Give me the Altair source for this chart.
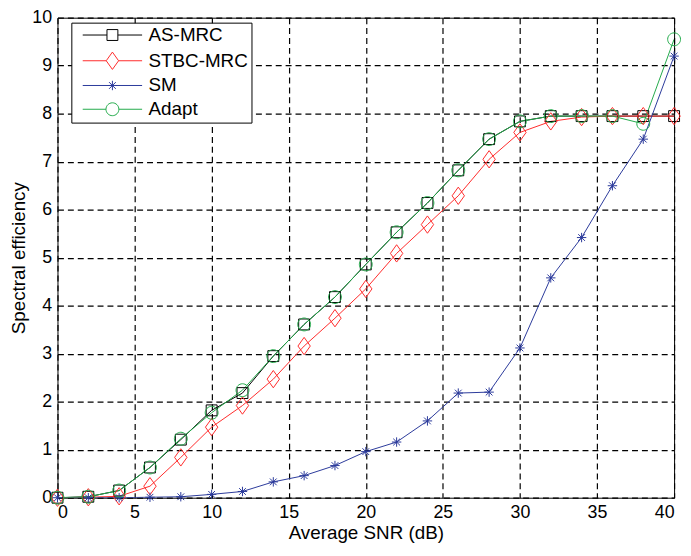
import altair as alt
import pandas as pd

snr = [0, 2, 4, 6, 8, 10, 12, 14, 16, 18, 20, 22, 24, 26, 28, 30, 32, 34, 36, 38, 40]
as_mrc = [0.0, 0.02, 0.15, 0.63, 1.21, 1.82, 2.18, 2.95, 3.61, 4.18, 4.86, 5.53, 6.14, 6.82, 7.47, 7.84, 7.95, 7.95, 7.95, 7.95, 7.95]
stbc_mrc = [0.0, 0.01, 0.03, 0.24, 0.84, 1.47, 1.92, 2.47, 3.16, 3.74, 4.35, 5.09, 5.69, 6.29, 7.05, 7.61, 7.84, 7.93, 7.95, 7.95, 7.95]
sm = [0.0, 0.0, 0.0, 0.01, 0.02, 0.07, 0.13, 0.33, 0.46, 0.67, 0.96, 1.16, 1.6, 2.18, 2.2, 3.12, 4.58, 5.42, 6.5, 7.47, 9.2]
adapt = [0.0, 0.02, 0.15, 0.63, 1.23, 1.77, 2.24, 2.95, 3.61, 4.18, 4.86, 5.53, 6.14, 6.82, 7.47, 7.84, 7.95, 7.95, 7.95, 7.79, 9.55]

series_names = ["AS-MRC", "STBC-MRC", "SM", "Adapt"]
series_values = [as_mrc, stbc_mrc, sm, adapt]
colors = ["#000000", "#ff2a2a", "#2b3a9b", "#22aa4a"]

marker_paths = [
    "M-1.1,-1.1H1.1V1.1H-1.1Z",
    "M0,-1.75L1.25,0L0,1.75L-1.25,0Z",
    "M0,-0.95V0.95M-0.95,0H0.95M-0.68,-0.68L0.68,0.68M-0.68,0.68L0.68,-0.68",
    "M1.3,0A1.3,1.3,0,1,1,-1.3,0A1.3,1.3,0,1,1,1.3,0Z",
]
legend_paths = [
    "M-6,0H-1.1M1.1,0H6" + marker_paths[0],
    "M-6,0H-1.25M1.25,0H6" + marker_paths[1],
    "M-6,0H6" + marker_paths[2],
    "M-6,0H-1.3M1.3,0H6" + marker_paths[3],
]

rows = []
for k, (name, vals) in enumerate(zip(series_names, series_values)):
    for x, y in zip(snr, vals):
        rows.append({"snr": x, "eff": y, "series": name, "order": k})
df = pd.DataFrame(rows)

FONT = "Liberation Sans"

x_enc = alt.X("snr:Q", scale=alt.Scale(domain=[0, 40], nice=False),
              axis=alt.Axis(values=list(range(0, 41, 5)), title="Average SNR (dB)"))
y_enc = alt.Y("eff:Q", scale=alt.Scale(domain=[0, 10], nice=False),
              axis=alt.Axis(values=list(range(0, 11)), title="Spectral efficiency"))

color_nolegend = alt.Color("series:N", scale=alt.Scale(domain=series_names, range=colors), legend=None)

lines = alt.Chart(df).mark_line(strokeWidth=1, clip=True).encode(
    x=x_enc, y=y_enc, color=color_nolegend, detail="series:N", order="snr:Q"
)

points = alt.Chart(df).mark_point(filled=False, size=100, strokeWidth=1, opacity=1, clip=False).encode(
    x=x_enc, y=y_enc, color=color_nolegend,
    shape=alt.Shape("series:N", scale=alt.Scale(domain=series_names, range=marker_paths), legend=None),
)

legend_opts = dict(title=None, orient="none", legendX=14, legendY=5,
                   symbolSize=100, symbolStrokeWidth=1, symbolOpacity=1,
                   symbolOffset=29, labelOffset=27,
                   labelFontSize=19, labelFont=FONT, labelColor="black",
                   rowPadding=4, padding=3,
                   strokeColor="black", fillColor="white", cornerRadius=0)

legend_layer = alt.Chart(df).mark_point(filled=False, strokeWidth=1).encode(
    x=x_enc, y=y_enc,
    opacity=alt.value(0),
    color=alt.Color("series:N", scale=alt.Scale(domain=series_names, range=colors),
                    legend=alt.Legend(**legend_opts)),
    shape=alt.Shape("series:N", scale=alt.Scale(domain=series_names, range=legend_paths),
                    legend=alt.Legend(**legend_opts)),
)

chart = alt.layer(legend_layer, lines, points).resolve_scale(
    color="independent", shape="independent"
).properties(
    width=623, height=485,
    autosize=alt.AutoSizeParams(type="none"),
    padding={"left": 50, "top": 7, "right": 9, "bottom": 48},
).configure_view(
    stroke="black", strokeWidth=1
).configure_axis(
    grid=True, gridColor="black", gridDash=[6, 4], gridWidth=1.2, gridOpacity=1,
    domain=False, ticks=False,
    labelFont=FONT, labelFontSize=18, labelColor="black",
    titleFont=FONT, titleFontSize=19, titleColor="black", titleFontWeight="normal",
).configure_axisX(
    labelPadding=6, titlePadding=2,
).configure_axisY(
    labelPadding=6, titlePadding=3,
)

chart.save("out.html", embed_options={"renderer": "svg", "actions": False})
